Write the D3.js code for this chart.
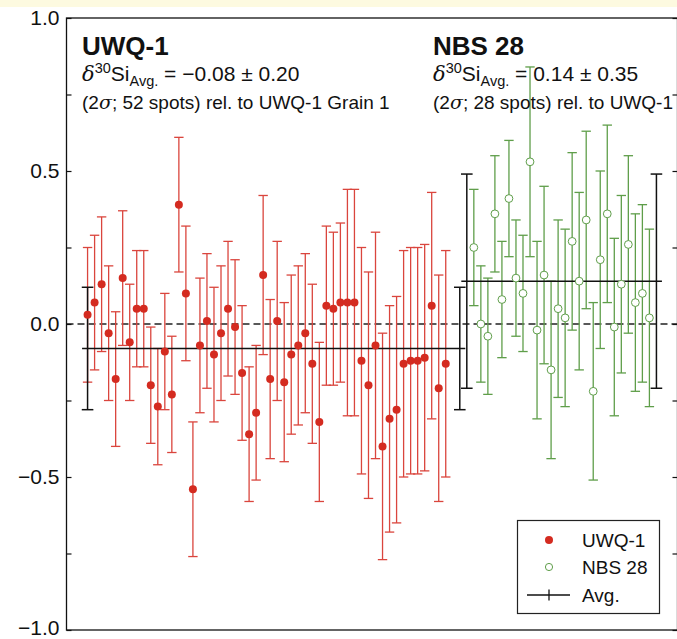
<!DOCTYPE html>
<html><head><meta charset="utf-8">
<script src="https://cdn.jsdelivr.net/npm/d3@7"></script>
<style>
html,body{margin:0;padding:0;background:#fff;}
svg{display:block;font-family:"Liberation Sans",Arial,Helvetica,sans-serif;}
</style></head>
<body>
<svg id="chart" width="677" height="639"></svg>
<script>
// ---- data ----
const uwqStart = 1;          // first UWQ-1 spot position
const uwqValues = [0.03,0.07,0.13,-0.03,-0.18,0.15,-0.06,0.05,0.05,-0.20,-0.27,-0.09,-0.23,0.39,0.10,-0.54,-0.07,0.01,-0.10,-0.03,0.05,-0.01,-0.16,-0.36,-0.29,0.16,-0.18,0.01,-0.19,-0.10,-0.07,-0.03,-0.13,-0.32,0.06,0.05,0.07,0.07,0.07,-0.12,-0.20,-0.07,-0.40,-0.31,-0.28,-0.13,-0.12,-0.12,-0.11,0.06,-0.21,-0.13];
const uwqErrors = [0.22,0.22,0.22,0.22,0.22,0.22,0.19,0.19,0.19,0.19,0.19,0.19,0.19,0.22,0.22,0.22,0.22,0.22,0.22,0.22,0.22,0.22,0.22,0.22,0.22,0.26,0.26,0.26,0.26,0.26,0.26,0.26,0.26,0.26,0.26,0.25,0.26,0.37,0.37,0.37,0.37,0.37,0.37,0.37,0.37,0.37,0.37,0.37,0.37,0.37,0.37,0.37];
const nbsStart = 56;         // first NBS 28 spot position
const nbsValues = [0.25,0.00,-0.04,0.36,0.08,0.41,0.15,0.10,0.53,-0.02,0.16,-0.15,0.05,0.02,0.27,0.14,0.34,-0.22,0.21,0.36,-0.01,0.13,0.26,0.07,0.10,0.02];
const nbsErrors = [0.19,0.19,0.19,0.19,0.19,0.19,0.19,0.19,0.31,0.29,0.29,0.29,0.29,0.29,0.29,0.29,0.29,0.29,0.29,0.29,0.29,0.29,0.29,0.29,0.29,0.29];
const avgNames = ["UWQ-1","NBS 28"];
const avgValues = [-0.08, 0.14];
const avgErrors = [0.20, 0.35];
const avgSpans = [[1,54],[55,82]];
const avgSpots = [52, 28];
const yTicks = [-1,-0.75,-0.5,-0.25,0,0.25,0.5,0.75,1];
const yTickLabels = ["\u22121.0","","\u22120.5","","0.0","","0.5","","1.0"];
const legendLabels = ["UWQ-1","NBS 28","Avg."];

// ---- layout ----
const W = 677, H = 639;
const L = 66.5, R = 677.5, T = 18, B = 630;
const RED = "#d42b20", REDL = "#da453d", GREEN = "#5f9e4a";

const svg = d3.select("#chart");
svg.append("rect").attr("x",0).attr("y",0).attr("width",W).attr("height",7).attr("fill","#fdfae0");

const x = d3.scaleLinear().domain([-2, 85]).range([L, R]);
const y = d3.scaleLinear().domain([-1, 1]).range([B, T]);

// zero dashed line
svg.append("line").attr("x1",L).attr("x2",R).attr("y1",y(0)).attr("y2",y(0))
  .attr("stroke","#222").attr("stroke-width",1.5).attr("stroke-dasharray","7,4");

const uwq = uwqValues.map((v,i)=>({s:uwqStart+i, v, e:uwqErrors[i]}));
const nbs = nbsValues.map((v,i)=>({s:nbsStart+i, v, e:nbsErrors[i]}));

function errorBars(data, color, cap, width){
  const g = svg.append("g").attr("stroke",color).attr("stroke-width",width).attr("fill","none");
  data.forEach(d=>{
    const cx = x(d.s);
    g.append("line").attr("x1",cx).attr("x2",cx).attr("y1",y(d.v+d.e)).attr("y2",y(d.v-d.e));
    g.append("line").attr("x1",cx-cap).attr("x2",cx+cap).attr("y1",y(d.v+d.e)).attr("y2",y(d.v+d.e));
    g.append("line").attr("x1",cx-cap).attr("x2",cx+cap).attr("y1",y(d.v-d.e)).attr("y2",y(d.v-d.e));
  });
}
errorBars(uwq, REDL, 4.7, 1.3);
errorBars(nbs, GREEN, 4.7, 1.3);

// averages
avgValues.forEach((a,k)=>{
  const [s0,s1] = avgSpans[k];
  svg.append("line").attr("x1",x(s0)-5.5).attr("x2",x(s1)+5.5).attr("y1",y(a)).attr("y2",y(a))
    .attr("stroke","#111").attr("stroke-width",1.5);
  errorBars([{s:s0,v:a,e:avgErrors[k]},{s:s1,v:a,e:avgErrors[k]}], "#111", 5.8, 1.5);
});

// markers
svg.append("g").selectAll("circle").data(uwq).join("circle")
  .attr("cx",d=>x(d.s)).attr("cy",d=>y(d.v)).attr("r",4).attr("fill",RED);
svg.append("g").selectAll("circle").data(nbs).join("circle")
  .attr("cx",d=>x(d.s)).attr("cy",d=>y(d.v)).attr("r",3.9).attr("fill","#fff")
  .attr("stroke",GREEN).attr("stroke-width",1);

// frame
svg.append("rect").attr("x",L).attr("y",T).attr("width",R-L).attr("height",B-T)
  .attr("fill","none").attr("stroke","#111").attr("stroke-width",1.3);

// y axis ticks (inward on both sides)
const yl = d3.axisLeft(y).tickValues(yTicks).tickSizeInner(-5).tickSizeOuter(0).tickPadding(7)
  .tickFormat((d,i)=>yTickLabels[i]);
const gl = svg.append("g").attr("transform",`translate(${L},0)`).call(yl);
gl.select(".domain").remove();
gl.selectAll("line").attr("stroke","#111").attr("stroke-width",1.2);
gl.selectAll("text").attr("font-size",21).attr("fill","#111").attr("font-family","Liberation Sans, Arial, sans-serif");
gl.selectAll("text").filter(d=>d===-1).attr("dy","0.22em");
const yr = d3.axisRight(y).tickValues(yTicks).tickSizeInner(-5).tickSizeOuter(0).tickFormat("");
const gr = svg.append("g").attr("transform",`translate(${R},0)`).call(yr);
gr.select(".domain").remove();
gr.selectAll("line").attr("stroke","#111").attr("stroke-width",1.2);

// annotations
function annot(x0, k){
  const t = svg.append("g").attr("fill","#111");
  t.append("text").attr("x",x0).attr("y",55).attr("font-size",26).attr("font-weight","bold").text(avgNames[k]);
  const l2 = t.append("text").attr("x",x0).attr("y",81).attr("font-size",21);
  l2.append("tspan").attr("font-style","italic").attr("font-family","DejaVu Serif, serif").text("\u03b4");
  l2.append("tspan").attr("font-size",14.5).attr("dy",-8).text("30");
  l2.append("tspan").attr("dy",8).text("Si");
  l2.append("tspan").attr("font-size",14.5).attr("dy",5).text("Avg.");
  const av = avgValues[k], sign = av<0 ? "\u2212" : "";
  l2.append("tspan").attr("dy",-5).text(` = ${sign}${Math.abs(av).toFixed(2)} \u00b1 ${avgErrors[k].toFixed(2)}`);
  const l3 = t.append("text").attr("x",x0).attr("y",109).attr("font-size",19);
  l3.append("tspan").text("(2");
  l3.append("tspan").attr("font-style","italic").attr("font-family","DejaVu Serif, serif").text("\u03c3");
  l3.append("tspan").text(`; ${avgSpots[k]} spots) rel. to UWQ-1 Grain 1`);
}
annot(82, 0);
annot(433, 1);

// legend
const lg = svg.append("g");
lg.append("rect").attr("x",517.5).attr("y",520.5).attr("width",142).attr("height",93)
  .attr("fill","#fff").attr("stroke","#222").attr("stroke-width",1.2);
lg.append("circle").attr("cx",549).attr("cy",540).attr("r",4).attr("fill",RED);
lg.append("circle").attr("cx",549).attr("cy",567).attr("r",3.6).attr("fill","#fff").attr("stroke",GREEN).attr("stroke-width",1);
lg.append("line").attr("x1",527).attr("x2",570).attr("y1",595).attr("y2",595).attr("stroke","#111").attr("stroke-width",1.3);
lg.append("line").attr("x1",549).attr("x2",549).attr("y1",589.5).attr("y2",600.5).attr("stroke","#111").attr("stroke-width",1.3);
legendLabels.forEach((t,i)=>{
  lg.append("text").attr("x",582).attr("y",546.5+i*27.5).attr("font-size",19).attr("fill","#111").text(t);
});
</script>
</body></html>
